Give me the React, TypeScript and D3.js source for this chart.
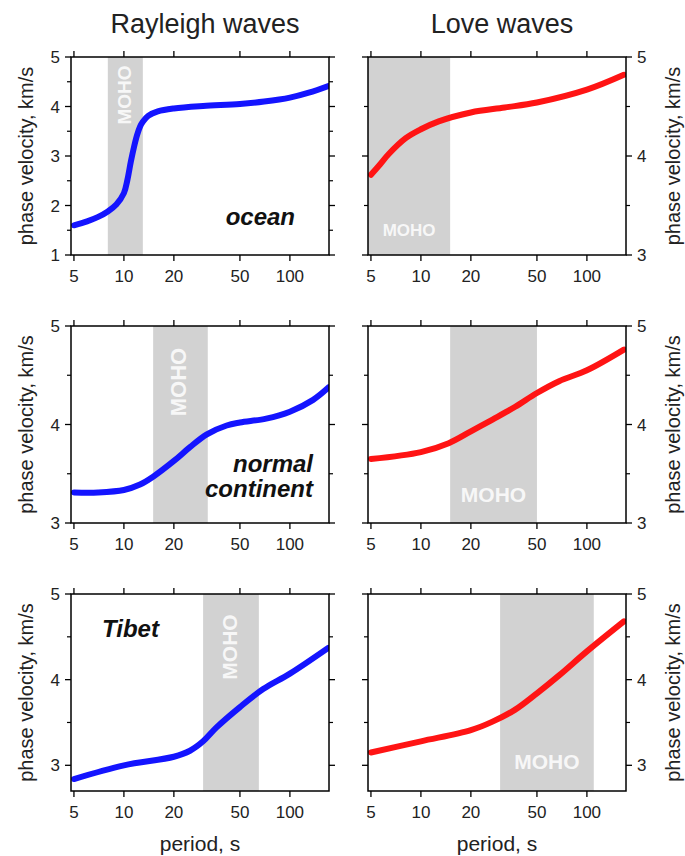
import React from "react";
import * as d3 from "d3";

// period ticks (s) and panel titles
const PERIOD_TICKS = [5, 10, 20, 50, 100];
const COLUMN_TITLES = ["Rayleigh waves", "Love waves"];

// Rayleigh waves, ocean
const rOceanPeriod = [5, 6, 7, 8, 9, 10, 10.5, 11, 11.5, 12, 12.5, 13, 14, 16, 20, 30, 50, 70, 100, 130, 172];
const rOceanVel = [1.6, 1.68, 1.77, 1.88, 2.02, 2.25, 2.52, 2.88, 3.18, 3.42, 3.59, 3.69, 3.81, 3.9, 3.96, 4.01, 4.05, 4.1, 4.18, 4.28, 4.42];
// Love waves, ocean
const lOceanPeriod = [5, 5.7, 6.4, 8.1, 10, 12.8, 20, 32, 50, 100, 167];
const lOceanVel = [3.81, 3.92, 4.02, 4.18, 4.27, 4.35, 4.44, 4.49, 4.54, 4.67, 4.82];
// Rayleigh waves, normal continent
const rContPeriod = [5, 7, 10, 12.5, 15, 20, 25, 31.6, 41.6, 50, 72, 100, 138, 172];
const rContVel = [3.31, 3.31, 3.335, 3.39, 3.47, 3.63, 3.77, 3.9, 3.99, 4.02, 4.06, 4.13, 4.25, 4.38];
// Love waves, normal continent
const lContPeriod = [5, 10, 14.7, 20, 27, 37, 50, 68, 100, 167];
const lContVel = [3.65, 3.72, 3.81, 3.93, 4.05, 4.18, 4.32, 4.44, 4.55, 4.76];
// Rayleigh waves, Tibet
const rTibetPeriod = [5, 10, 20, 25, 30, 36, 50, 69, 100, 170];
const rTibetVel = [2.84, 3.0, 3.1, 3.17, 3.28, 3.44, 3.68, 3.89, 4.07, 4.37];
// Love waves, Tibet
const lTibetPeriod = [5, 10, 20, 27, 37, 50, 68, 100, 167];
const lTibetVel = [3.15, 3.28, 3.41, 3.51, 3.65, 3.84, 4.05, 4.33, 4.68];

// Moho-sensitive period bands
const mohoBands = [[8, 13], [4.8, 15], [15, 32], [15, 50], [30, 65], [30, 110]];

const X_DOMAIN = [4.8, 172];
const FONT = "'Liberation Sans', Arial, Helvetica, sans-serif";
const BLUE = "#1414ff";
const RED = "#ff1414";
const GRAY = "#d2d2d2";

const COLS = [{ x0: 71, x1: 329 }, { x0: 368, x1: 626 }];
const ROWS = [{ y0: 57, y1: 255 }, { y0: 326, y1: 523 }, { y0: 594, y1: 791 }];

type PanelProps = {
  col: number;
  row: number;
  period: number[];
  vel: number[];
  yDomain: [number, number];
  yMajor: number[];
  yMinor: number[];
  band: number[];
  moho: { vertical: boolean; y: number; size: number };
  color: string;
  label?: { lines: string[]; x: number; y: number; anchor: string };
};

const Panel = ({ col, row, period, vel, yDomain, yMajor, yMinor, band, moho, color, label }: PanelProps) => {
  const { x0, x1 } = COLS[col];
  const { y0, y1 } = ROWS[row];
  const x = d3.scaleLog().domain(X_DOMAIN).range([x0, x1]);
  const y = d3.scaleLinear().domain(yDomain).range([y1, y0]);
  const pts = period.map((p, i) => [p, vel[i]] as [number, number]);
  const line = d3
    .line<[number, number]>()
    .x((d) => x(d[0]))
    .y((d) => y(d[1]))
    .curve(d3.curveCatmullRom.alpha(0.5));

  const bx0 = Math.max(x0, x(band[0]));
  const bx1 = x(band[1]);
  const bc = (bx0 + bx1) / 2;
  const right = col === 1;
  const labelSide = right ? x1 : x0;
  const dir = right ? 1 : -1;

  return (
    <g>
      <clipPath id={`clip-${col}-${row}`}>
        <rect x={x0} y={y0} width={x1 - x0} height={y1 - y0} />
      </clipPath>
      <rect x={bx0} y={y0} width={bx1 - bx0} height={y1 - y0} fill={GRAY} />
      {moho.vertical ? (
        <text
          transform={`translate(${bc + 6},${moho.y}) rotate(-90)`}
          textAnchor="middle"
          fontFamily={FONT}
          fontWeight="bold"
          fontSize={moho.size}
          fill="#fff"
          fillOpacity={0.85}
        >
          MOHO
        </text>
      ) : (
        <text
          x={bc}
          y={moho.y}
          textAnchor="middle"
          fontFamily={FONT}
          fontWeight="bold"
          fontSize={moho.size}
          fill="#fff"
          fillOpacity={0.85}
        >
          MOHO
        </text>
      )}
      <path
        d={line(pts) || ""}
        fill="none"
        stroke={color}
        strokeWidth={6}
        strokeLinecap="round"
        clipPath={`url(#clip-${col}-${row})`}
      />
      {label &&
        label.lines.map((t, i) => (
          <text
            key={t}
            x={label.x}
            y={label.y + i * 25}
            textAnchor={label.anchor}
            fontFamily={FONT}
            fontWeight="bold"
            fontStyle="italic"
            fontSize={24}
            fill="#111"
          >
            {t}
          </text>
        ))}
      <rect x={x0} y={y0} width={x1 - x0} height={y1 - y0} fill="none" stroke="#000" strokeWidth={1.5} />
      {PERIOD_TICKS.map((p) => (
        <g key={p}>
          <line x1={x(p)} x2={x(p)} y1={y1} y2={y1 + 6} stroke="#000" strokeWidth={1.3} />
          <line x1={x(p)} x2={x(p)} y1={y0} y2={y0 - 6} stroke="#000" strokeWidth={1.3} />
          <text x={x(p)} y={y1 + 27} textAnchor="middle" fontFamily={FONT} fontSize={17} fill="#222">
            {p}
          </text>
        </g>
      ))}
      {yMajor.map((v) => (
        <g key={v}>
          <line x1={x0} x2={x0 - 6} y1={y(v)} y2={y(v)} stroke="#000" strokeWidth={1.3} />
          <line x1={x1} x2={x1 + 6} y1={y(v)} y2={y(v)} stroke="#000" strokeWidth={1.3} />
          <text
            x={labelSide + dir * 11}
            y={y(v) + 6}
            textAnchor={right ? "start" : "end"}
            fontFamily={FONT}
            fontSize={17}
            fill="#222"
          >
            {v}
          </text>
        </g>
      ))}
      {yMinor.map((v) => (
        <g key={v}>
          <line x1={x0} x2={x0 - 4} y1={y(v)} y2={y(v)} stroke="#000" strokeWidth={1.2} />
          <line x1={x1} x2={x1 + 4} y1={y(v)} y2={y(v)} stroke="#000" strokeWidth={1.2} />
        </g>
      ))}
      <text
        transform={`translate(${right ? 680 : 33},${(y0 + y1) / 2}) rotate(-90)`}
        textAnchor="middle"
        fontFamily={FONT}
        fontSize={20}
        fill="#222"
      >
        phase velocity, km/s
      </text>
    </g>
  );
};

export default function App() {
  const ticks35 = { yMajor: [3, 4, 5], yMinor: [3.5, 4.5] };
  return (
    <svg width={685} height={856} style={{ position: "absolute", left: 0, top: 0, background: "#fff" }}>
      {COLUMN_TITLES.map((t, i) => (
        <text
          key={t}
          x={(COLS[i].x0 + COLS[i].x1) / 2 + 5}
          y={33}
          textAnchor="middle"
          fontFamily={FONT}
          fontSize={27}
          fill="#222"
        >
          {t}
        </text>
      ))}
      <Panel
        col={0}
        row={0}
        period={rOceanPeriod}
        vel={rOceanVel}
        yDomain={[1, 5]}
        yMajor={[1, 2, 3, 4, 5]}
        yMinor={[1.5, 2.5, 3.5, 4.5]}
        band={mohoBands[0]}
        moho={{ vertical: true, y: 95, size: 19 }}
        color={BLUE}
        label={{ lines: ["ocean"], x: 295, y: 225, anchor: "end" }}
      />
      <Panel
        col={1}
        row={0}
        period={lOceanPeriod}
        vel={lOceanVel}
        yDomain={[3, 5]}
        {...ticks35}
        band={mohoBands[1]}
        moho={{ vertical: false, y: 236, size: 17 }}
        color={RED}
      />
      <Panel
        col={0}
        row={1}
        period={rContPeriod}
        vel={rContVel}
        yDomain={[3, 5]}
        {...ticks35}
        band={mohoBands[2]}
        moho={{ vertical: true, y: 382, size: 22 }}
        color={BLUE}
        label={{ lines: ["normal", "continent"], x: 313, y: 472, anchor: "end" }}
      />
      <Panel
        col={1}
        row={1}
        period={lContPeriod}
        vel={lContVel}
        yDomain={[3, 5]}
        {...ticks35}
        band={mohoBands[3]}
        moho={{ vertical: false, y: 502, size: 21 }}
        color={RED}
      />
      <Panel
        col={0}
        row={2}
        period={rTibetPeriod}
        vel={rTibetVel}
        yDomain={[2.7, 5]}
        {...ticks35}
        band={mohoBands[4]}
        moho={{ vertical: true, y: 647, size: 21 }}
        color={BLUE}
        label={{ lines: ["Tibet"], x: 102, y: 637, anchor: "start" }}
      />
      <Panel
        col={1}
        row={2}
        period={lTibetPeriod}
        vel={lTibetVel}
        yDomain={[2.7, 5]}
        {...ticks35}
        band={mohoBands[5]}
        moho={{ vertical: false, y: 769, size: 21 }}
        color={RED}
      />
      {COLS.map((c, i) => (
        <text
          key={i}
          x={(c.x0 + c.x1) / 2}
          y={851}
          textAnchor="middle"
          fontFamily={FONT}
          fontSize={21}
          fill="#222"
        >
          period, s
        </text>
      ))}
    </svg>
  );
}
